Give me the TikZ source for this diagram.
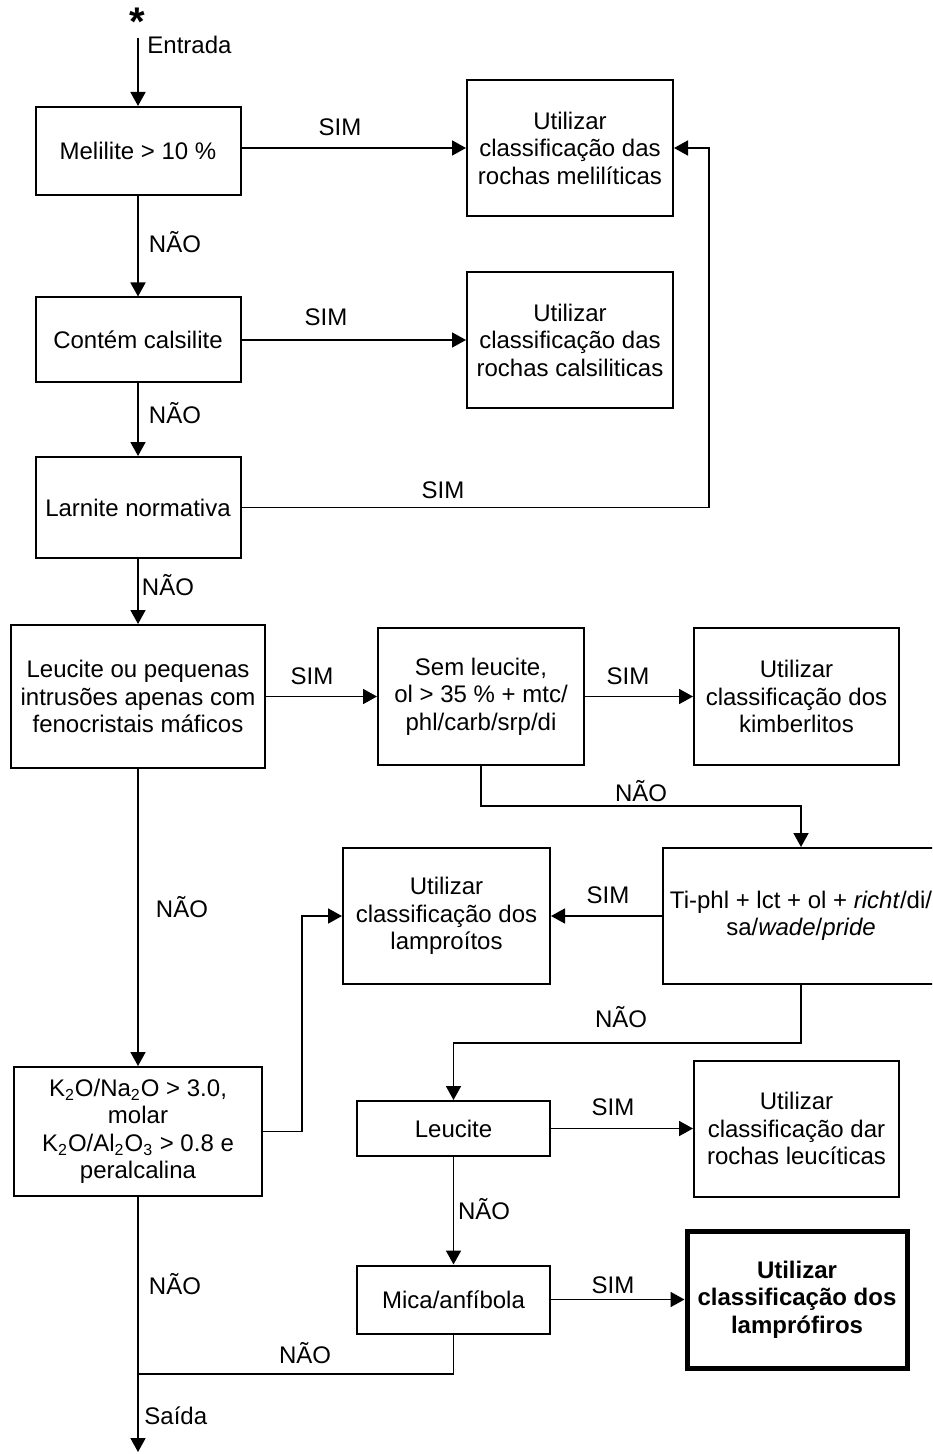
\documentclass[tikz,border=0pt]{standalone}
\usepackage{fontspec}
\setmainfont{Liberation Sans}
\usetikzlibrary{arrows.meta}
\begin{document}
\begin{tikzpicture}[x=0.5pt,y=-0.5pt,
  every node/.style={font=\fontsize{12}{13.75}\selectfont},
  box/.style={draw,line width=1pt,align=center,inner sep=0pt},
  finalbox/.style={box,line width=2.5pt,font=\fontsize{12}{13.75}\selectfont\bfseries},
  arr/.style={line width=0.9pt,-{Triangle[length=7pt,width=7.5pt]}},
  conn/.style={line width=0.9pt},
  lbl/.style={inner sep=0pt,text height=8.6pt,text depth=0pt}]
\clip (0,0) rectangle (932,1454);

% decision and result boxes
\node[box,minimum width=102.5pt,minimum height=44pt] (mel) at (138,151) {Melilite > 10 \%};
\node[box,minimum width=103pt,minimum height=68pt] (meli) at (570,148) {Utilizar\\classificação das\\rochas melilíticas};
\node[box,minimum width=102.5pt,minimum height=42.5pt] (cal) at (138,340) {Contém calsilite};
\node[box,minimum width=103pt,minimum height=68pt] (cals) at (570,340) {Utilizar\\classificação das\\rochas calsiliticas};
\node[box,minimum width=102.5pt,minimum height=50.5pt] (lar) at (138,507.5) {Larnite normativa};
\node[box,minimum width=127pt,minimum height=71.5pt] (leuc) at (138,696.5) {Leucite ou pequenas\\intrusões apenas com\\fenocristais máficos};
\node[box,minimum width=103pt,minimum height=68.5pt] (sem) at (481,696.5) {Sem leucite,\\ol > 35 \% + mtc/\\phl/carb/srp/di};
\node[box,minimum width=102.5pt,minimum height=68.5pt] (kim) at (796.5,696.5) {Utilizar\\classificação dos\\kimberlitos};
\node[box,minimum width=138pt,minimum height=68pt] (ti) at (801,916) {Ti-phl + lct + ol + \textit{richt}/di/\\sa/\textit{wade}/\textit{pride}};
\node[box,minimum width=103.5pt,minimum height=68pt] (lamp) at (446.5,916) {Utilizar\\classificação dos\\lamproítos};
\node[box,minimum width=124pt,minimum height=64.5pt] (kna) at (138,1131.5) {K\textsubscript{2}O/Na\textsubscript{2}O > 3.0,\\molar\\K\textsubscript{2}O/Al\textsubscript{2}O\textsubscript{3} > 0.8 e\\peralcalina};
\node[box,minimum width=96.5pt,minimum height=27.5pt] (leu) at (453.5,1128.5) {Leucite};
\node[box,minimum width=102.5pt,minimum height=68pt] (leus) at (796.5,1128.5) {Utilizar\\classificação dar\\rochas leucíticas};
\node[box,minimum width=96.5pt,minimum height=34pt] (mica) at (453.5,1299.5) {Mica/anfíbola};
\node[finalbox,minimum width=110pt,minimum height=68.5pt] (lpf) at (797,1299.5) {Utilizar\\classificação dos\\lamprófiros};

% entry and exit
\node[inner sep=0pt,font=\fontsize{20}{20}\selectfont\bfseries] (star) at (137,22) {*};
\coordinate (start) at (138,38);
\coordinate (exit) at (138,1452);
\coordinate (rback) at (709,148);
\coordinate (kbend) at (302,916);
\coordinate (join) at (138,1374);

% connectors
\draw[arr] (start) -- (mel.north);
\draw[arr] (meli.west -| mel.east) -- (meli.west);
\draw[arr] (mel.south) -- (cal.north);
\draw[arr] (cal.east) -- (cals.west);
\draw[arr] (cal.south) -- (lar.north);
\draw[arr] (lar.east) -| (rback) -- (meli.east);
\draw[arr] (lar.south) -- (leuc.north);
\draw[arr] (leuc.east) -- (sem.west);
\draw[arr] (sem.east) -- (kim.west);
\draw[arr] (sem.south) -- ++(0,40) -| (ti.north);
\draw[arr] (ti.west) -- (lamp.east);
\draw[arr] (leuc.south) -- (kna.north);
\draw[arr] (kna.east) -| (kbend) -- (lamp.west);
\draw[arr] (ti.south) -- ++(0,58) -| (leu.north);
\draw[arr] (leu.east) -- (leus.west);
\draw[arr] (leu.south) -- (mica.north);
\draw[arr] (mica.east) -- (lpf.west);
\draw[conn] (mica.south) |- (join);
\draw[arr] (kna.south) -- (exit);

% labels
\node[lbl,anchor=west] at (147,45) {Entrada};
\node[lbl,anchor=west] at (144,1416) {Saída};
\node[lbl] at (340,127) {SIM};
\node[lbl] at (175,244) {NÃO};
\node[lbl] at (326,317) {SIM};
\node[lbl] at (175,415) {NÃO};
\node[lbl] at (443,490) {SIM};
\node[lbl] at (168,587) {NÃO};
\node[lbl] at (312,676) {SIM};
\node[lbl] at (628,676) {SIM};
\node[lbl] at (641,793) {NÃO};
\node[lbl] at (608,895) {SIM};
\node[lbl] at (182,909) {NÃO};
\node[lbl] at (621,1019) {NÃO};
\node[lbl] at (613,1107) {SIM};
\node[lbl] at (484,1211) {NÃO};
\node[lbl] at (613,1285) {SIM};
\node[lbl] at (175,1286) {NÃO};
\node[lbl] at (305,1355) {NÃO};
\end{tikzpicture}
\end{document}
